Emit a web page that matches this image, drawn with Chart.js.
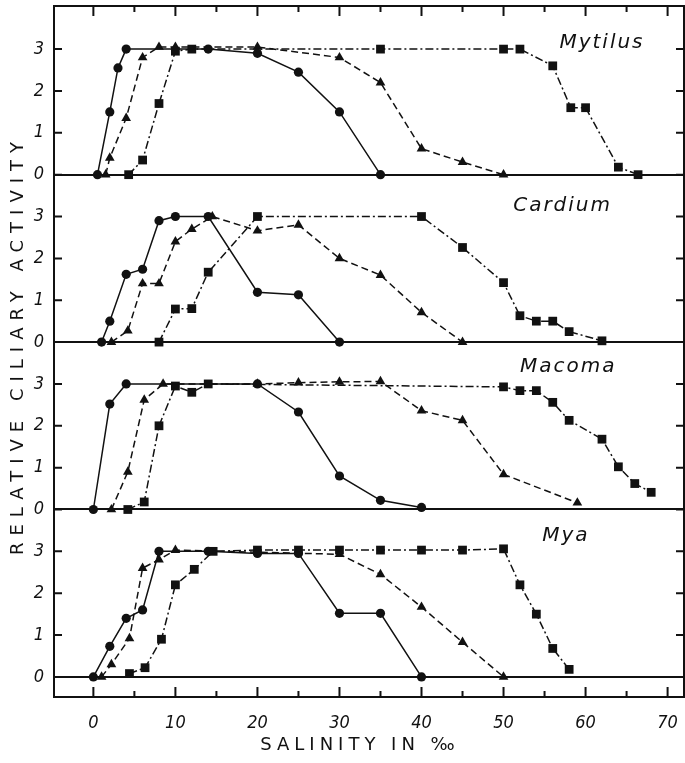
<!DOCTYPE html>
<html lang="en">
<head>
<meta charset="UTF-8">
<title>Relative ciliary activity vs salinity</title>
<script src="https://cdn.jsdelivr.net/npm/chart.js"></script>
<style>
  body { margin: 0; background: #fff; }
  #wrap { width: 685px; height: 763px; }
</style>
</head>
<body>
<div id="wrap"><canvas id="myChart"></canvas></div>
<script>
// salinity (per mille), relative activity 0-3
var mytilusCircle   = [[0.5,0],[2,1.5],[3,2.55],[4,3],[14,3],[20,2.9],[25,2.45],[30,1.5],[35,0]];
var mytilusTriangle = [[1.5,0],[2,0.4],[4,1.35],[6,2.8],[8,3.05],[10,3.05],[20,3.05],[30,2.8],[35,2.2],[40,0.62],[45,0.3],[50,0]];
var mytilusSquare   = [[4.3,0],[6,0.35],[8,1.7],[10,2.95],[12,3],[35,3],[50,3],[52,3],[56,2.6],[58.2,1.6],[60,1.6],[64,0.18],[66.4,0]];

var cardiumCircle   = [[1,0],[2,0.5],[4,1.62],[6,1.74],[8,2.9],[10,3],[14,3],[20,1.19],[25,1.13],[30,0]];
var cardiumTriangle = [[2.2,0],[4.2,0.27],[6,1.4],[8,1.4],[10,2.4],[12,2.7],[14.5,3],[20,2.66],[25,2.8],[30,2.0],[35,1.6],[40,0.71],[45,0]];
var cardiumSquare   = [[8,0],[10,0.79],[12,0.8],[14,1.67],[20,3],[40,3],[45,2.26],[50,1.42],[52,0.63],[54,0.5],[56,0.5],[58,0.25],[62,0.03]];

var macomaCircle    = [[0,0],[2,2.52],[4,3],[20,3],[25,2.33],[30,0.8],[35,0.22],[40,0.05]];
var macomaTriangle  = [[2.2,0],[4.2,0.9],[6.2,2.62],[8.5,3],[20,3],[25,3.03],[30,3.05],[35,3.06],[40,2.36],[45,2.13],[50,0.84],[59,0.16]];
var macomaSquare    = [[4.2,0],[6.2,0.18],[8,2],[10,2.95],[12,2.8],[14,3],[50,2.93],[52,2.84],[54,2.84],[56,2.56],[58,2.13],[62,1.68],[64,1.02],[66,0.62],[68,0.41]];

var myaCircle       = [[0,0],[2,0.73],[4,1.4],[6,1.6],[8,3],[14,3],[20,2.95],[25,2.95],[30,1.52],[35,1.52],[40,0]];
var myaTriangle     = [[1,0],[2.2,0.3],[4.4,0.92],[6,2.6],[8,2.8],[10,3.03],[30,2.93],[35,2.45],[40,1.67],[45,0.83],[50,0]];
var mySquare        = [[4.4,0.08],[6.3,0.22],[8.3,0.9],[10,2.2],[12.3,2.57],[14.6,3],[20,3.03],[25,3.03],[30,3.03],[35,3.03],[40,3.03],[45,3.03],[50,3.06],[52,2.2],[54,1.5],[56,0.68],[58,0.18]];

var speciesNames = ['Mytilus', 'Cardium', 'Macoma', 'Mya'];
var yTickLabels  = ['0', '1', '2', '3'];
var xTickValues  = [0, 10, 20, 30, 40, 50, 60, 70];
var xTitle = 'SALINITY IN \u2030';
var yTitle = 'RELATIVE CILIARY ACTIVITY';

// panels are stacked on one y scale, each one 4 units above the one below
var panelShift = [12, 8, 4, 0];
var panelSeries = [
    [mytilusCircle, mytilusTriangle, mytilusSquare],
    [cardiumCircle, cardiumTriangle, cardiumSquare],
    [macomaCircle, macomaTriangle, macomaSquare],
    [myaCircle, myaTriangle, mySquare]
];
// where each species name sits (salinity, activity) inside its panel
var namePos = [[62, 3.14], [57.2, 3.26], [57.9, 3.4], [57.6, 3.36]];

var marks = [
    { style: 'circle',   radius: 4.6, dash: [] },
    { style: 'triangle', radius: 5.6, dash: [7, 4] },
    { style: 'rect',     radius: 6.2, dash: [8, 3, 2, 3] }
];

var datasets = [];
panelSeries.forEach(function (series, p) {
    series.forEach(function (pts, k) {
        datasets.push({
            label: speciesNames[p] + ' ' + marks[k].style,
            data: pts.map(function (d) { return { x: d[0], y: d[1] + panelShift[p] }; }),
            borderColor: '#111',
            backgroundColor: '#111',
            borderWidth: 1.5,
            borderDash: marks[k].dash,
            pointStyle: marks[k].style,
            pointRadius: marks[k].radius,
            pointBorderWidth: 0,
            pointBackgroundColor: '#111',
            tension: 0,
            showLine: true
        });
    });
});

var tickFont = { family: "'DejaVu Sans Condensed', 'DejaVu Sans'", size: 18, style: 'italic' };

var framePlugin = {
    id: 'frame',
    afterDraw: function (chart) {
        var ctx = chart.ctx, a = chart.chartArea;
        var x = chart.scales.x, y = chart.scales.y;
        ctx.save();
        ctx.strokeStyle = '#111';
        ctx.lineWidth = 2;
        ctx.strokeRect(a.left, a.top, a.right - a.left, a.bottom - a.top);

        ctx.beginPath();
        for (var v = 0; v <= 70; v += 5) {
            var px = x.getPixelForValue(v);
            var len = v % 10 === 0 ? 10 : 6;
            ctx.moveTo(px, a.bottom); ctx.lineTo(px, a.bottom - len);
            ctx.moveTo(px, a.top);    ctx.lineTo(px, a.top + len);
        }
        for (var t = 0; t <= 15; t++) {
            var py = y.getPixelForValue(t);
            ctx.moveTo(a.left, py);  ctx.lineTo(a.left + 8, py);
            ctx.moveTo(a.right, py); ctx.lineTo(a.right - 8, py);
        }
        ctx.stroke();

        ctx.fillStyle = '#111';
        ctx.textAlign = 'center';
        ctx.textBaseline = 'middle';

        // species names
        ctx.font = 'italic 20px "DejaVu Sans"';
        ctx.letterSpacing = '2px';
        speciesNames.forEach(function (name, p) {
            ctx.fillText(name,
                x.getPixelForValue(namePos[p][0]),
                y.getPixelForValue(namePos[p][1] + panelShift[p]));
        });

        // axis titles
        ctx.font = '18px "DejaVu Sans"';
        ctx.letterSpacing = '5px';
        ctx.fillText(xTitle, 360, 745);

        ctx.letterSpacing = '7px';
        ctx.translate(18, 345);
        ctx.rotate(-Math.PI / 2);
        ctx.fillText(yTitle, 0, 0);
        ctx.restore();
    }
};

var ctx = document.getElementById('myChart').getContext('2d');
var myChart = new Chart(ctx, {
    type: 'scatter',
    data: { datasets: datasets },
    options: {
        responsive: true,
        maintainAspectRatio: false,
        animation: false,
        layout: { autoPadding: false, padding: { top: 6, right: 1, left: 0, bottom: 0 } },
        plugins: { legend: { display: false }, tooltip: { enabled: false } },
        scales: {
            x: {
                type: 'linear',
                min: -4.8,
                max: 72,
                afterFit: function (s) {
                    s.height = 66;
                    s.paddingLeft = 0;
                    s.paddingRight = 0;
                },
                afterBuildTicks: function (s) {
                    s.ticks = xTickValues.map(function (v) { return { value: v }; });
                },
                grid: { display: false },
                border: { display: false },
                ticks: { color: '#111', font: tickFont, padding: 8, maxRotation: 0 }
            },
            y: {
                type: 'linear',
                min: -0.48,
                max: 16.03,
                afterFit: function (s) {
                    s.width = 54;
                    s.paddingTop = 0;
                    s.paddingBottom = 0;
                },
                afterBuildTicks: function (s) {
                    var list = [];
                    for (var v = 0; v <= 15; v++) list.push({ value: v });
                    s.ticks = list;
                },
                grid: {
                    drawTicks: false,
                    lineWidth: 2,
                    color: function (c) {
                        return (c.tick && c.tick.value % 4 === 0) ? '#111' : 'rgba(0,0,0,0)';
                    }
                },
                border: { display: false },
                ticks: {
                    color: '#111',
                    font: tickFont,
                    padding: 10,
                    callback: function (v) { return yTickLabels[v % 4]; }
                }
            }
        }
    },
    plugins: [framePlugin]
});
</script>
</body>
</html>
